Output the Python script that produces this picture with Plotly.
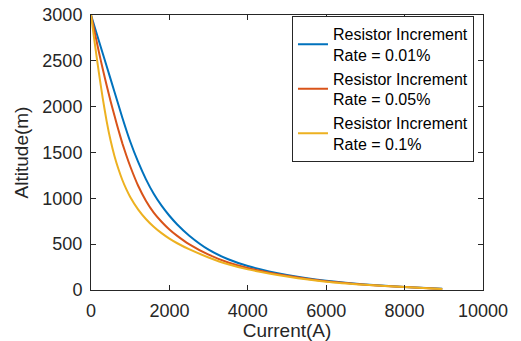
import plotly.graph_objects as go

# Data (current in A, altitude in m)
blue_current = [0, 200, 400, 600, 800, 1000, 1200, 1400, 1600, 1800, 2000, 2200, 2500,
                3000, 3500, 4000, 5000, 6000, 7000, 8000, 8960]
blue_alt = [3000, 2720, 2440, 2160, 1880, 1620, 1400, 1210, 1050, 920, 810, 715, 595,
            440, 335, 262, 165, 100, 60, 34, 14]

red_current = [0, 100, 200, 300, 400, 500, 600, 700, 800, 900, 1000, 1200, 1400, 1600,
               1800, 2000, 2200, 2500, 3000, 3500, 4000, 5000, 6000, 7000, 8000, 8960]
red_alt = [3000, 2800, 2600, 2410, 2230, 2060, 1900, 1745, 1600, 1470, 1350, 1140, 975, 845,
           745, 660, 590, 500, 385, 300, 240, 155, 95, 58, 33, 12]

yellow_current = [0, 50, 100, 150, 200, 300, 400, 500, 600, 700, 800, 900, 1000, 1200, 1400,
                  1600, 1800, 2000, 2200, 2500, 3000, 3500, 4000, 5000, 6000, 7000, 8000, 8960]
yellow_alt = [3000, 2840, 2680, 2525, 2375, 2090, 1840, 1630, 1460, 1320, 1200, 1100, 1015, 880,
              775, 690, 620, 560, 510, 445, 355, 280, 225, 148, 90, 56, 32, 10]

names = ["Resistor Increment<br>Rate = 0.01%",
         "Resistor Increment<br>Rate = 0.05%",
         "Resistor Increment<br>Rate = 0.1%"]
colors = ["#0072BD", "#D95319", "#EDB120"]

x_ticks = [0, 2000, 4000, 6000, 8000, 10000]
y_ticks = [0, 500, 1000, 1500, 2000, 2500, 3000]

FONT = "Liberation Sans, Arial"

fig = go.Figure()
for xs, ys, nm, c in [(blue_current, blue_alt, names[0], colors[0]),
                      (red_current, red_alt, names[1], colors[1]),
                      (yellow_current, yellow_alt, names[2], colors[2])]:
    fig.add_trace(go.Scatter(x=xs, y=ys, mode="lines", name=nm,
                             line=dict(color=c, width=2, shape="spline", smoothing=0.6)))

axis_common = dict(showgrid=False, zeroline=False, showline=True, linecolor="#262626",
                   linewidth=1, mirror="ticks", ticks="inside", ticklen=5, automargin=False,
                   tickcolor="#262626", tickfont=dict(family=FONT, size=18, color="#262626"))

fig.update_layout(
    width=521, height=341,
    margin=dict(l=91, r=38, t=15, b=51),
    paper_bgcolor="white", plot_bgcolor="white",
    xaxis=dict(range=[0, 10000], tickvals=x_ticks, ticktext=[str(v) for v in x_ticks],
               title=dict(text="Current(A)", font=dict(family=FONT, size=19, color="#262626"), standoff=4),
               ticklabelstandoff=4, **axis_common),
    yaxis=dict(range=[0, 3000], tickvals=y_ticks, ticktext=[str(v) for v in y_ticks],
               title=dict(text="Altitude(m)", font=dict(family=FONT, size=19, color="#262626"), standoff=8),
               ticklabelstandoff=4, **axis_common),
    legend=dict(x=0.977, y=0.997, xanchor="right", yanchor="top",
                bgcolor="white", bordercolor="#262626", borderwidth=1,
                font=dict(family=FONT, size=16, color="#000000"),
                tracegroupgap=0),
    showlegend=True,
)

fig.write_html("out.html")
